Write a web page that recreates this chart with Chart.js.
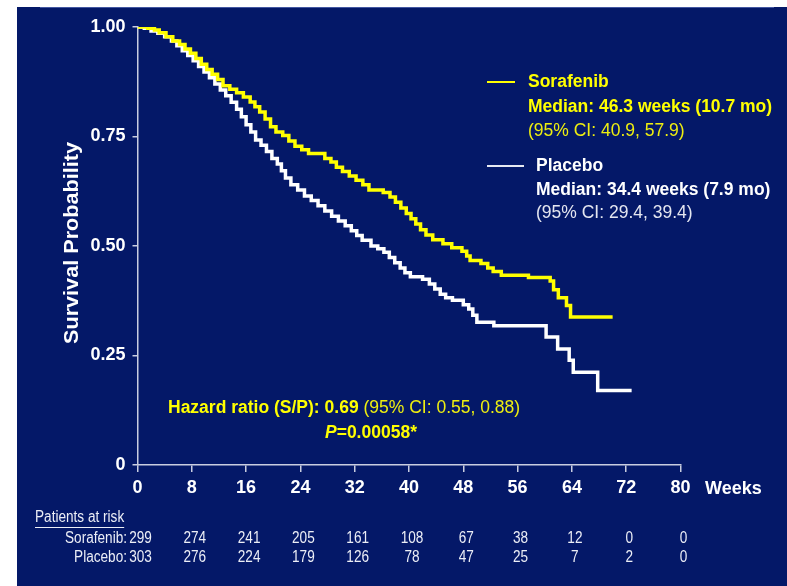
<!DOCTYPE html>
<html>
<head>
<meta charset="utf-8">
<script src="https://cdn.jsdelivr.net/npm/chart.js@4.4.1/dist/chart.umd.min.js"></script>
<style>
  html, body { margin: 0; padding: 0; background: #ffffff; }
  canvas { display: block; }
</style>
</head>
<body>
<canvas id="km" width="787" height="586"></canvas>
<script>
// Kaplan-Meier overall survival, sorafenib vs placebo
const weekTicks = [0, 8, 16, 24, 32, 40, 48, 56, 64, 72, 80];
const survTicks = [0, 0.25, 0.5, 0.75, 1];
const survTickLabels = ['0', '0.25', '0.50', '0.75', '1.00'];

const sorafenibWeeks = [0, 1.5, 2.5, 3.2, 4.2, 5.2, 6.2, 7.0, 7.8, 8.6, 9.4, 10.2, 11.0, 11.8, 12.6, 13.6, 14.6, 15.6, 16.6, 17.3, 18.0, 18.8, 19.6, 20.4, 21.4, 22.3, 23.2, 24.2, 25.2, 27.6, 28.5, 29.3, 30.2, 31.2, 32.2, 33.2, 34.1, 36.2, 37.2, 38.0, 38.8, 39.6, 40.3, 41.0, 41.7, 42.5, 43.5, 45.0, 46.3, 47.8, 48.5, 49.0, 50.6, 51.6, 52.4, 53.6, 57.6, 60.8, 61.3, 62.0, 63.2, 63.8, 70.0];
const sorafenibSurv = [1.000, 0.997, 0.993, 0.987, 0.978, 0.968, 0.960, 0.950, 0.940, 0.928, 0.915, 0.903, 0.892, 0.880, 0.866, 0.858, 0.850, 0.840, 0.829, 0.818, 0.806, 0.790, 0.772, 0.760, 0.752, 0.740, 0.728, 0.720, 0.711, 0.700, 0.692, 0.680, 0.670, 0.660, 0.650, 0.640, 0.628, 0.622, 0.612, 0.600, 0.587, 0.574, 0.562, 0.550, 0.537, 0.525, 0.514, 0.505, 0.496, 0.488, 0.477, 0.467, 0.460, 0.450, 0.442, 0.433, 0.428, 0.420, 0.400, 0.382, 0.364, 0.338, 0.338];

const placeboWeeks = [0, 1.0, 2.0, 3.0, 4.0, 5.0, 5.8, 6.6, 7.4, 8.2, 9.0, 9.8, 10.6, 11.4, 12.2, 13.0, 13.8, 14.6, 15.3, 16.0, 16.7, 17.4, 18.2, 19.0, 19.8, 20.6, 21.2, 21.8, 22.6, 23.6, 24.6, 25.6, 26.6, 27.6, 28.6, 29.6, 30.6, 31.5, 32.3, 33.1, 34.4, 35.4, 36.3, 37.1, 37.9, 38.7, 39.4, 40.2, 42.0, 43.0, 43.8, 44.6, 45.4, 46.4, 48.0, 48.8, 49.4, 50.0, 52.5, 60.2, 61.9, 63.6, 64.2, 67.8, 72.8];
const placeboSurv = [1.000, 0.997, 0.991, 0.986, 0.978, 0.968, 0.957, 0.946, 0.935, 0.923, 0.910, 0.897, 0.884, 0.870, 0.856, 0.843, 0.828, 0.812, 0.795, 0.777, 0.760, 0.742, 0.730, 0.716, 0.700, 0.687, 0.672, 0.655, 0.640, 0.628, 0.614, 0.604, 0.592, 0.580, 0.568, 0.557, 0.546, 0.535, 0.524, 0.513, 0.500, 0.494, 0.486, 0.474, 0.462, 0.450, 0.439, 0.430, 0.424, 0.413, 0.402, 0.390, 0.382, 0.376, 0.366, 0.356, 0.342, 0.326, 0.318, 0.292, 0.265, 0.239, 0.212, 0.170, 0.170];

const atRiskSorafenib = [299, 274, 241, 205, 161, 108, 67, 38, 12, 0, 0];
const atRiskPlacebo = [303, 276, 224, 179, 126, 78, 47, 25, 7, 2, 0];

const NAVY = 'rgb(4,24,104)';
const YELLOW = '#ffff00';
const WHITE = '#ffffff';
const AXIS = '#c9cde0';
const SANS = '"Liberation Sans", Arial, Helvetica, sans-serif';

function toPoints(xs, ys) { return xs.map((x, i) => ({ x: x, y: ys[i] })); }

function text(ctx, str, x, y, font, color, align, sx) {
  ctx.save();
  ctx.font = font;
  ctx.fillStyle = color;
  ctx.textBaseline = 'middle';
  ctx.textAlign = align || 'left';
  ctx.translate(x, y);
  ctx.scale(sx || 1, 1);
  ctx.fillText(str, 0, 0);
  const w = ctx.measureText(str).width * (sx || 1);
  ctx.restore();
  return w;
}

const backdrop = {
  id: 'backdrop',
  beforeDraw(chart) {
    const ctx = chart.ctx;
    ctx.save();
    ctx.fillStyle = '#ffffff';
    ctx.fillRect(0, 0, chart.width, chart.height);
    ctx.fillStyle = NAVY;
    ctx.fillRect(17, 7, chart.width - 17, chart.height - 7);
    ctx.fillStyle = 'rgba(110,130,200,0.6)';
    ctx.fillRect(40, 7, 734, 1);
    ctx.restore();
  }
};

const annotations = {
  id: 'annotations',
  afterDraw(chart) {
    const ctx = chart.ctx;
    const xs = chart.scales.x;

    // y axis title
    ctx.save();
    ctx.translate(72, 243);
    ctx.rotate(-Math.PI / 2);
    text(ctx, 'Survival Probability', 0, 0, 'bold 21px ' + SANS, WHITE, 'center', 1.03);
    ctx.restore();

    // x axis unit
    text(ctx, 'Weeks', 705, 489, 'bold 18px ' + SANS, WHITE, 'left');

    // legend keys
    ctx.save();
    ctx.strokeStyle = YELLOW; ctx.lineWidth = 2;
    ctx.beginPath(); ctx.moveTo(487, 82); ctx.lineTo(515, 82); ctx.stroke();
    ctx.strokeStyle = '#e6e8f2';
    ctx.beginPath(); ctx.moveTo(487, 166); ctx.lineTo(524, 166); ctx.stroke();
    ctx.restore();

    // legend: sorafenib
    text(ctx, 'Sorafenib', 528, 82, 'bold 17.5px ' + SANS, YELLOW);
    text(ctx, 'Median: 46.3 weeks (10.7 mo)', 528, 107, 'bold 17.5px ' + SANS, YELLOW);
    text(ctx, '(95% CI: 40.9, 57.9)', 528, 131, '17.5px ' + SANS, '#eeee10');

    // legend: placebo
    text(ctx, 'Placebo', 536, 166, 'bold 17.5px ' + SANS, WHITE);
    text(ctx, 'Median: 34.4 weeks (7.9 mo)', 536, 190, 'bold 17.5px ' + SANS, WHITE);
    text(ctx, '(95% CI: 29.4, 39.4)', 536, 213, '17.5px ' + SANS, '#e4e6f0');

    // hazard ratio
    const w1 = text(ctx, 'Hazard ratio (S/P): 0.69 ', 168, 408, 'bold 17.5px ' + SANS, YELLOW);
    text(ctx, '(95% CI: 0.55, 0.88)', 168 + w1, 408, '17.5px ' + SANS, '#eeee10');
    const wp = text(ctx, 'P', 325, 433, 'italic bold 17.5px ' + SANS, YELLOW);
    text(ctx, '=0.00058*', 325 + wp, 433, 'bold 17.5px ' + SANS, YELLOW);

    // patients at risk table
    const tFont = '16px ' + SANS;
    const tCol = '#eceef6';
    const sx = 0.85;
    const wt = text(ctx, 'Patients at risk', 35, 518, tFont, tCol, 'left', sx);
    ctx.save();
    ctx.strokeStyle = tCol; ctx.lineWidth = 1;
    ctx.beginPath(); ctx.moveTo(35, 527.5); ctx.lineTo(35 + wt, 527.5); ctx.stroke();
    ctx.restore();
    text(ctx, 'Sorafenib:', 127, 539, tFont, tCol, 'right', sx);
    text(ctx, 'Placebo:', 127, 558, tFont, tCol, 'right', sx);
    weekTicks.forEach((wk, i) => {
      const px = xs.getPixelForValue(wk) + 3;
      text(ctx, String(atRiskSorafenib[i]), px, 539, tFont, tCol, 'center', sx);
      text(ctx, String(atRiskPlacebo[i]), px, 558, tFont, tCol, 'center', sx);
    });
  }
};

new Chart(document.getElementById('km'), {
  type: 'line',
  data: {
    datasets: [
      {
        label: 'Sorafenib',
        data: toPoints(sorafenibWeeks, sorafenibSurv),
        borderColor: YELLOW,
        borderWidth: 3.5,
        stepped: true,
        pointRadius: 0,
        fill: false
      },
      {
        label: 'Placebo',
        data: toPoints(placeboWeeks, placeboSurv),
        borderColor: WHITE,
        borderWidth: 3.5,
        stepped: true,
        pointRadius: 0,
        fill: false
      }
    ]
  },
  options: {
    responsive: false,
    animation: false,
    devicePixelRatio: 1,
    layout: { padding: { left: 0, top: 27, right: 106.5, bottom: 0 } },
    plugins: {
      legend: { display: false },
      tooltip: { enabled: false }
    },
    scales: {
      x: {
        type: 'linear',
        min: 0,
        max: 80,
        afterBuildTicks(scale) { scale.ticks = weekTicks.map(v => ({ value: v })); },
        afterFit(scale) { scale.height = 121; },
        ticks: {
          color: WHITE,
          font: { family: SANS, size: 18, weight: 'bold' },
          padding: 5,
          maxRotation: 0,
          autoSkip: false,
          callback: v => String(v)
        },
        grid: { drawOnChartArea: false, drawTicks: true, tickLength: 7, color: AXIS, lineWidth: 1.5 },
        border: { display: true, color: AXIS, width: 1.5 }
      },
      y: {
        type: 'linear',
        min: 0,
        max: 1,
        afterBuildTicks(scale) { scale.ticks = survTicks.map(v => ({ value: v })); },
        afterFit(scale) { scale.width = 137.5; },
        ticks: {
          color: WHITE,
          font: { family: SANS, size: 18, weight: 'bold' },
          padding: 7,
          autoSkip: false,
          callback: v => survTickLabels[survTicks.indexOf(v)]
        },
        grid: { drawOnChartArea: false, drawTicks: true, tickLength: 5, color: AXIS, lineWidth: 1.5 },
        border: { display: true, color: AXIS, width: 1.5 }
      }
    }
  },
  plugins: [backdrop, annotations]
});
</script>
</body>
</html>
